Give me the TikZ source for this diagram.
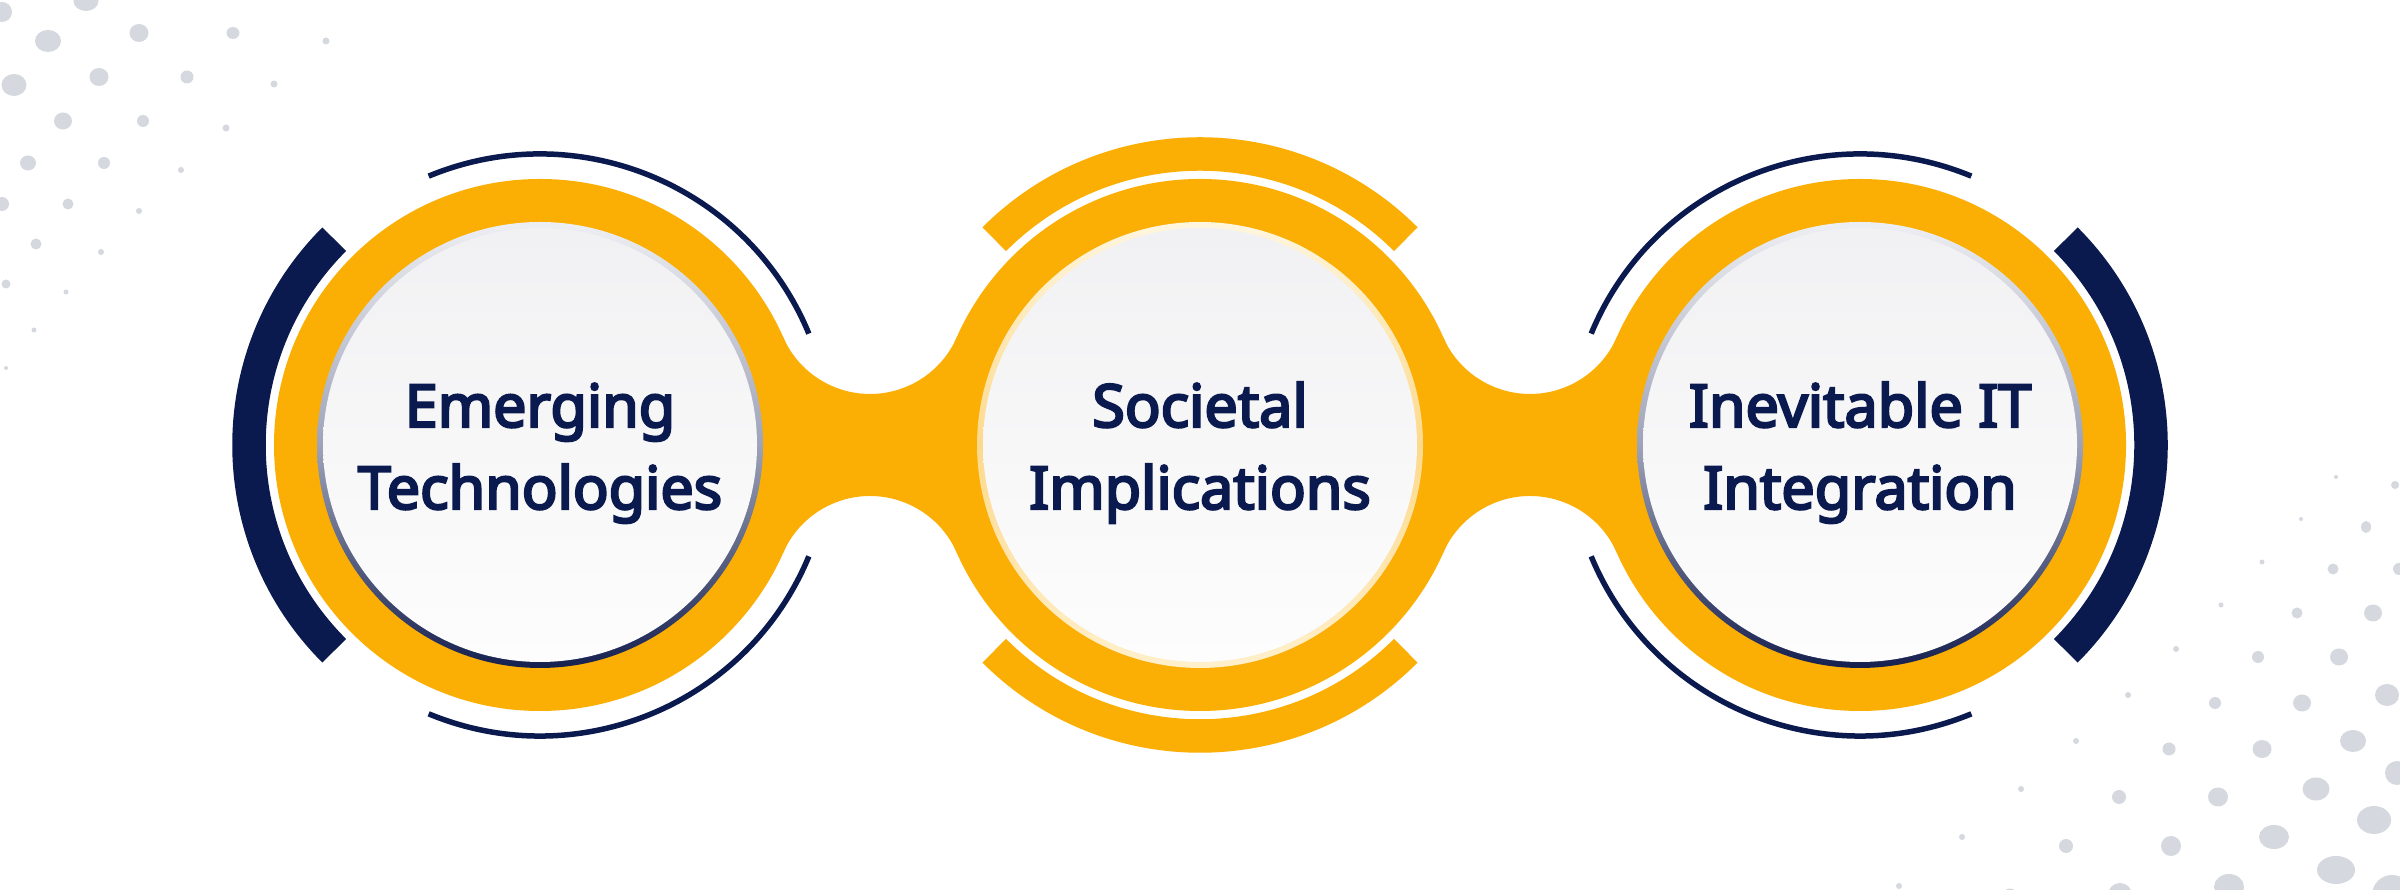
\documentclass[tikz,border=0pt]{standalone}
\usepackage{fontspec}
\setmainfont{Noto Sans}
\newfontfamily\lblfont{Noto Sans}[FakeBold=4]
\usetikzlibrary{calc}
\definecolor{gold}{HTML}{FBAE03}
\definecolor{navy}{HTML}{0B1A4E}
\definecolor{dotgray}{HTML}{D5D8DE}
\definecolor{rimtop}{HTML}{EEEFF3}
\definecolor{rimmid}{HTML}{9EA3B8}
\definecolor{rimbot}{HTML}{16204F}
\definecolor{ylwtop}{HTML}{FFF6DE}
\definecolor{ylwmid}{HTML}{FDD98C}
\definecolor{ylwbot}{HTML}{FFF0CC}
\definecolor{intop}{HTML}{F1F1F3}
\definecolor{inbot}{HTML}{FDFDFD}
\begin{document}
\begin{tikzpicture}[
  ring/.style={fill=gold},
  thickarc/.style={draw=navy, line width=3.35mm},
  thinarc/.style={draw=navy, line width=0.55mm},
  goldarc/.style={draw=gold, line width=3.35mm},
  navyrim/.style={top color=rimtop, bottom color=rimbot, middle color=rimmid},
  goldrim/.style={top color=ylwtop, bottom color=ylwbot, middle color=ylwmid},
  inner/.style={top color=intop, bottom color=inbot},
  lbl/.style={font=\lblfont\fontsize{16.85}{20}\selectfont, text=navy, inner sep=0pt, anchor=base},
  dot/.style={fill=dotgray}
]
\useasboundingbox (0,0) rectangle (24,8.9);
\fill[white] (0,0) rectangle (24,8.9);
% decorative dots
\begin{scope}
\clip (0,0) rectangle (24,8.9);
\foreach \x/\y/\a/\b in {
 0.86/8.89/0.125/0.10, 0.02/8.78/0.10/0.10, 0.48/8.49/0.13/0.11, 1.39/8.57/0.095/0.09,
 2.33/8.57/0.065/0.06, 3.26/8.49/0.035/0.035, 0.14/8.05/0.125/0.11, 0.99/8.13/0.095/0.09,
 1.87/8.13/0.065/0.065, 2.74/8.06/0.035/0.035, 0.63/7.69/0.09/0.085, 1.43/7.69/0.06/0.06,
 2.26/7.62/0.035/0.035, 0.28/7.27/0.08/0.075, 1.04/7.27/0.06/0.06, 1.81/7.20/0.03/0.03,
 0.02/6.86/0.07/0.07, 0.68/6.86/0.055/0.055, 1.39/6.79/0.03/0.03, 0.36/6.46/0.055/0.055,
 1.01/6.38/0.03/0.03, 0.06/6.06/0.045/0.045, 0.66/5.98/0.025/0.025, 0.34/5.60/0.025/0.025,
 0.06/5.22/0.02/0.02,
 23.36/4.13/0.02/0.02, 23.95/4.05/0.04/0.04, 23.01/3.71/0.02/0.02, 23.66/3.63/0.05/0.06,
 23.99/3.21/0.06/0.06, 22.62/3.28/0.025/0.025, 23.33/3.21/0.055/0.055, 22.21/2.85/0.025/0.025,
 22.97/2.77/0.055/0.055, 23.73/2.77/0.09/0.085, 21.76/2.41/0.03/0.03, 22.58/2.33/0.06/0.06,
 23.39/2.33/0.09/0.085, 23.87/1.95/0.12/0.11, 21.28/1.95/0.03/0.03, 22.15/1.87/0.06/0.06,
 23.02/1.87/0.09/0.085, 20.76/1.49/0.03/0.03, 21.69/1.41/0.065/0.065, 22.62/1.41/0.095/0.09,
 23.53/1.49/0.13/0.11, 23.97/1.17/0.12/0.12, 20.21/1.01/0.03/0.03, 21.19/0.93/0.07/0.07,
 22.18/0.93/0.10/0.095, 23.16/1.01/0.135/0.115, 23.74/0.70/0.17/0.14, 19.62/0.53/0.03/0.03,
 20.66/0.44/0.07/0.07, 21.71/0.44/0.10/0.10, 22.74/0.53/0.15/0.12, 23.36/0.20/0.19/0.14,
 23.92/-0.05/0.20/0.20, 18.99/0.04/0.03/0.03, 20.10/-0.06/0.075/0.075, 21.20/-0.05/0.12/0.12,
 22.29/0.03/0.15/0.13, 22.94/-0.20/0.15/0.15}
  \fill[dot] (\x,\y) ellipse[x radius=\a, y radius=\b];
\end{scope}
% centres
\coordinate (c1) at (5.40,4.45);
\coordinate (c2) at (12.00,4.45);
\coordinate (c3) at (18.60,4.45);
% orange body
\foreach \c in {c1,c2,c3}
  \fill[ring] (\c) circle[radius=2.66];
\foreach \fx in {8.70,15.30}
  \fill[ring] (\fx-0.868,5.527) arc[start angle=203.7,end angle=336.3,radius=0.948]
    -- (\fx+0.868,3.373) arc[start angle=23.7,end angle=156.3,radius=0.948] -- cycle;
% discs
\shade[navyrim] (c1) circle[radius=2.23];
\shade[goldrim] (c2) circle[radius=2.23];
\shade[navyrim] (c3) circle[radius=2.23];
\foreach \c in {c1,c2,c3}
  \shade[inner] (\c) circle[radius=2.17];
% outer arcs
\draw[thickarc] ($(c1)+(135:2.91)$) arc[start angle=135,end angle=225,radius=2.91];
\draw[thinarc] ($(c1)+(22.5:2.91)$) arc[start angle=22.5,end angle=112.5,radius=2.91];
\draw[thinarc] ($(c1)+(-112.5:2.91)$) arc[start angle=-112.5,end angle=-22.5,radius=2.91];
\draw[goldarc] ($(c2)+(45:2.91)$) arc[start angle=45,end angle=135,radius=2.91];
\draw[goldarc] ($(c2)+(225:2.91)$) arc[start angle=225,end angle=315,radius=2.91];
\draw[thickarc] ($(c3)+(-45:2.91)$) arc[start angle=-45,end angle=45,radius=2.91];
\draw[thinarc] ($(c3)+(67.5:2.91)$) arc[start angle=67.5,end angle=157.5,radius=2.91];
\draw[thinarc] ($(c3)+(202.5:2.91)$) arc[start angle=202.5,end angle=292.5,radius=2.91];
% labels
\node[lbl] (t1a) at (5.40,4.63) {Emerging};
\node[lbl] (t1b) at (5.40,3.81) {Technologies};
\node[lbl] (t2a) at (12.00,4.63) {Societal};
\node[lbl] (t2b) at (12.00,3.81) {Implications};
\node[lbl] (t3a) at (18.60,4.63) {Inevitable IT};
\node[lbl] (t3b) at (18.60,3.81) {Integration};
\end{tikzpicture}
\end{document}
